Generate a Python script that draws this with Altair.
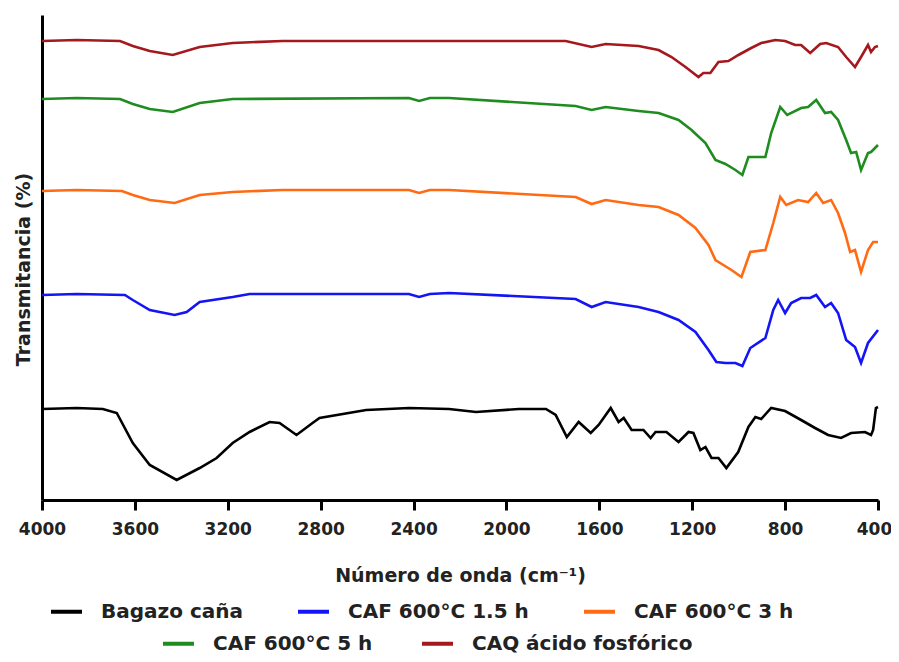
import altair as alt
import pandas as pd

# ---- data (wavenumber cm-1, transmittance in arbitrary offset units) ----
series_names = ["Bagazo caña", "CAF 600°C 1.5 h", "CAF 600°C 3 h", "CAF 600°C 5 h", "CAQ ácido fosfórico"]
series_colors = ["#000000", "#1414F5", "#FF6A13", "#1E8C1E", "#A3191E"]

wn_bagazo = [4000, 3850, 3738, 3678, 3609, 3536, 3420, 3321, 3248, 3179, 3106, 3020, 2977, 2904, 2835, 2805, 2604, 2419, 2247, 2131,
             1947, 1830, 1788, 1740, 1689, 1637, 1603, 1551, 1517, 1495, 1461, 1410, 1379, 1358, 1311, 1259, 1216, 1195, 1165, 1143,
             1117, 1087, 1053, 1002, 958, 928, 903, 860, 800, 731, 671, 615, 559, 516, 456, 430, 421, 409, 400]
t_bagazo = [91, 92, 91, 87, 57, 35, 20, 32, 42, 57, 68, 78, 77, 65, 77, 82, 90, 92, 91, 88,
            91, 91, 85, 63, 78, 67, 75, 92, 78, 82, 70, 70, 62, 68, 68, 58, 68, 67, 50, 53,
            42, 42, 32, 48, 73, 83, 81, 92, 89, 80, 72, 65, 62, 67, 68, 65, 70, 92, 93]

wn_caf15 = [4000, 3850, 3643, 3609, 3536, 3429, 3377, 3321, 3179, 3106, 2420, 2376, 2330, 2247, 1702, 1633, 1573,
            1431, 1345, 1259, 1186, 1130, 1096, 1057, 1014, 984, 950, 885, 851, 830, 800, 774, 731, 692, 666, 628, 602,
            572, 537, 499, 473, 443, 400]
t_caf15 = [205, 206, 205, 200, 190, 185, 188, 198, 203, 206, 206, 203, 206, 207, 201, 193, 198,
           193, 188, 180, 168, 150, 138, 137, 137, 134, 152, 162, 190, 200, 187, 197, 202, 202, 205, 193, 197,
           187, 160, 153, 137, 157, 170]

wn_caf3 = [4000, 3850, 3656, 3609, 3536, 3429, 3321, 3179, 2965, 2420, 2376, 2330, 2247, 1702, 1633, 1573,
           1431, 1345, 1259, 1186, 1130, 1100, 1066, 1031, 988, 950, 885, 851, 821, 795, 744, 701, 666, 636, 602, 572,
           542, 520, 499, 473, 443, 421, 400]
t_caf3 = [309, 310, 309, 305, 300, 297, 305, 308, 310, 310, 307, 310, 310, 303, 296, 300,
          295, 293, 285, 272, 255, 240, 235, 230, 223, 248, 250, 277, 303, 295, 300, 298, 307, 297, 300, 287,
          267, 248, 250, 228, 250, 258, 258]

wn_caf5 = [4000, 3850, 3664, 3609, 3536, 3437, 3321, 3179, 2420, 2376, 2330, 2247, 1702, 1633, 1573,
           1431, 1345, 1259, 1203, 1143, 1100, 1057, 1014, 984, 958, 885, 860, 821, 791, 731, 701, 666, 628, 602, 572,
           537, 516, 494, 473, 443, 430, 400]
t_caf5 = [401, 402, 401, 396, 391, 388, 397, 401, 402, 399, 402, 402, 394, 390, 393,
          389, 387, 380, 370, 357, 340, 336, 330, 325, 343, 343, 367, 393, 385, 392, 393, 400, 387, 388, 380,
          360, 347, 348, 330, 347, 348, 355]

wn_caq = [4000, 3850, 3664, 3609, 3536, 3437, 3321, 3179, 2965, 2247, 1745, 1633, 1573,
          1431, 1345, 1289, 1229, 1173, 1152, 1122, 1087, 1044, 1001, 946, 903, 842, 800, 757, 731, 692, 649, 623, 572,
          537, 499, 473, 443, 430, 413, 400]
t_caq = [459, 460, 459, 454, 449, 445, 453, 457, 459, 459, 459, 453, 456,
         454, 450, 443, 433, 423, 427, 427, 438, 439, 445, 452, 457, 460, 459, 455, 455, 447, 456, 457, 453,
         443, 433, 443, 455, 448, 453, 454]

x_ticks = [4000, 3600, 3200, 2800, 2400, 2000, 1600, 1200, 800, 400]

rows = []
for name, wns, ts in zip(series_names,
                         [wn_bagazo, wn_caf15, wn_caf3, wn_caf5, wn_caq],
                         [t_bagazo, t_caf15, t_caf3, t_caf5, t_caq]):
    for w, t in zip(wns, ts):
        rows.append({"series": name, "wn": w, "t": t})
df = pd.DataFrame(rows)

FONT = "DejaVu Sans"
PLOT_W = 836

x_enc = alt.X("wn:Q",
              scale=alt.Scale(domain=[4000, 400], nice=False, zero=False),
              axis=alt.Axis(values=x_ticks, format="d", grid=False,
                            domainColor="black", domainWidth=3,
                            tickColor="black", tickWidth=3, tickSize=10,
                            labelFont=FONT, labelFontSize=17, labelFontWeight="bold",
                            labelColor="#222222", labelPadding=11, labelFlush=False,
                            labelOverlap=False,
                            labelOffset={"condition": {"test": "datum.value == 400", "value": -4}, "value": 0},
                            title="Número de onda (cm⁻¹)",
                            titleFont=FONT, titleFontSize=19, titleFontWeight="bold",
                            titleColor="#222222", titleX=PLOT_W / 2, titleY=75,
                            titleBaseline="middle", titleAlign="center"))
y_enc = alt.Y("t:Q",
              scale=alt.Scale(domain=[0, 485], nice=False, zero=False),
              axis=alt.Axis(labels=False, ticks=False, grid=False,
                            domainColor="black", domainWidth=3,
                            title="Transmitancia (%)",
                            titleFont=FONT, titleFontSize=19, titleFontWeight="bold",
                            titleColor="#222222", titleAngle=270,
                            titleX=-19, titleY=254,
                            titleAlign="center", titleBaseline="middle"))

legend_common = dict(orient="none", direction="horizontal", title=None,
                     symbolType="stroke", symbolSize=961, symbolStrokeWidth=4,
                     labelFont=FONT, labelFontSize=20, labelFontWeight="bold",
                     labelColor="#222222", labelOffset=17,
                     padding=0, labelLimit=0)

row1 = series_names[:3]
row2 = series_names[3:]

layer_a = alt.Chart(df[df.series.isin(row1)]).mark_line(strokeWidth=2.6).encode(
    x=x_enc, y=y_enc,
    color=alt.Color("series:N",
                    scale=alt.Scale(domain=row1, range=series_colors[:3]),
                    legend=alt.Legend(legendX=7, legendY=579, columnPadding=47, **legend_common)))

layer_b = alt.Chart(df[df.series.isin(row2)]).mark_line(strokeWidth=2.6).encode(
    x=x_enc, y=y_enc,
    stroke=alt.Stroke("series:N",
                      scale=alt.Scale(domain=row2, range=series_colors[3:]),
                      legend=alt.Legend(legendX=119, legendY=611, columnPadding=41, **legend_common)))

chart = alt.layer(layer_a, layer_b).properties(
    width=PLOT_W, height=485,
    autosize=alt.AutoSizeParams(type="none"),
    padding={"left": 34, "top": 7, "right": 13, "bottom": 154},
    background="white",
).configure_view(strokeWidth=0)

chart.save("out.html", embed_options={"renderer": "svg", "actions": False})
